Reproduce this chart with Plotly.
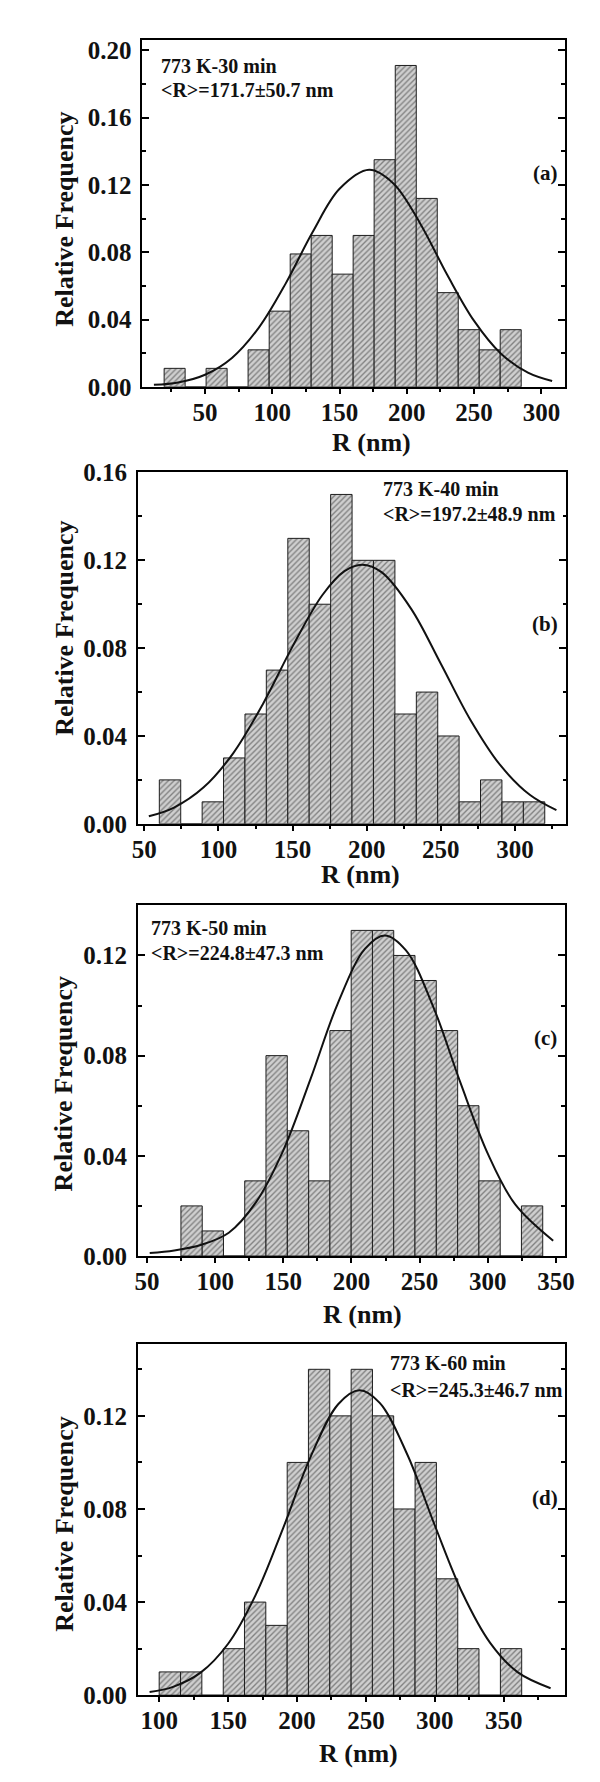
import plotly.graph_objects as go

# ---------------- data ----------------
# panel (a) 773 K-30 min
a_centers = [27.4, 43.0, 58.6, 74.2, 89.8, 105.5, 121.1, 136.7, 152.3, 167.9,
             183.5, 199.2, 214.8, 230.4, 246.0, 261.6, 277.2]
a_freq = [0.011, 0.0, 0.011, 0.0, 0.022, 0.045, 0.079, 0.090, 0.067, 0.090,
          0.135, 0.191, 0.112, 0.056, 0.034, 0.022, 0.034]
a_fit_x = [12, 30, 50, 70, 90, 110, 130, 150, 172, 190, 210, 230, 250, 270, 290, 308]
a_fit_y = [0.0012, 0.0026, 0.0072, 0.0172, 0.0352, 0.0615, 0.0920, 0.1177, 0.1290,
           0.1209, 0.0970, 0.0666, 0.0392, 0.0197, 0.0085, 0.0035]

# panel (b) 773 K-40 min
b_centers = [67.3, 81.7, 96.2, 110.6, 125.1, 139.5, 154.0, 168.4, 182.9, 197.3,
             211.8, 226.2, 240.7, 255.1, 269.6, 284.0, 298.5, 312.9]
b_freq = [0.02, 0.0, 0.01, 0.03, 0.05, 0.07, 0.13, 0.10, 0.15, 0.12,
          0.12, 0.05, 0.06, 0.04, 0.01, 0.02, 0.01, 0.01]
b_fit_x = [53, 70, 90, 110, 130, 150, 170, 185, 197, 210, 230, 250, 270, 290, 310, 328]
b_fit_y = [0.0034, 0.0074, 0.0166, 0.0322, 0.0546, 0.0808, 0.1041, 0.1151, 0.1180,
           0.1146, 0.0979, 0.0729, 0.0473, 0.0268, 0.0132, 0.0062]

# panel (c) 773 K-50 min
c_centers = [82.7, 98.3, 113.9, 129.5, 145.1, 160.8, 176.4, 192.0, 207.6, 223.2,
             238.8, 254.4, 270.1, 285.7, 301.3, 316.9, 332.5]
c_freq = [0.02, 0.01, 0.0, 0.03, 0.08, 0.05, 0.03, 0.09, 0.13, 0.13,
          0.12, 0.11, 0.09, 0.06, 0.03, 0.0, 0.02]
c_fit_x = [52, 70, 90, 110, 130, 150, 170, 190, 210, 224.5, 240, 260, 280, 300, 320, 348]
c_fit_y = [0.0012, 0.0022, 0.0045, 0.0093, 0.0215, 0.0422, 0.0707, 0.1009, 0.1227,
           0.1280, 0.1220, 0.0995, 0.0691, 0.0409, 0.0207, 0.0061]

# panel (d) 773 K-60 min
d_centers = [107.7, 123.2, 138.7, 154.2, 169.6, 185.1, 200.6, 216.0, 231.5, 247.0,
             262.4, 277.9, 293.4, 308.9, 324.3, 339.8, 355.3]
d_freq = [0.01, 0.01, 0.0, 0.02, 0.04, 0.03, 0.10, 0.14, 0.12, 0.14,
          0.12, 0.08, 0.10, 0.05, 0.02, 0.0, 0.02]
d_fit_x = [93, 110, 130, 150, 170, 190, 210, 230, 245.3, 260, 280, 300, 320, 340, 360, 384]
d_fit_y = [0.0014, 0.0036, 0.0097, 0.0221, 0.0431, 0.0719, 0.1026, 0.1251, 0.1310,
           0.1256, 0.1034, 0.0729, 0.0439, 0.0226, 0.0099, 0.0030]

labels_line1 = ["773 K-30 min", "773 K-40 min", "773 K-50 min", "773 K-60 min"]
labels_line2 = ["&lt;R&gt;=171.7±50.7 nm", "&lt;R&gt;=197.2±48.9 nm",
                "&lt;R&gt;=224.8±47.3 nm", "&lt;R&gt;=245.3±46.7 nm"]
panel_tags = ["(a)", "(b)", "(c)", "(d)"]
x_title = "R (nm)"
y_title = "Relative Frequency"

# ---------------- layout geometry (pixels) ----------------
W, H = 600, 1782
FONT = "Liberation Serif, Times New Roman, serif"
INK = "#111111"

panels = [
    dict(c=a_centers, f=a_freq, fx=a_fit_x, fy=a_fit_y, bw=15.62,
         px=(132.0, 565.6), py=(20.7, 372.3), xr=(3.5, 317.2), yr=(0, 0.2059),
         l1=(148.5, 46.5), l2=(148.5, 71.5), tag=(546, 155), yt=(51.7, 202.5), xt=(367, 429)),
    dict(c=b_centers, f=b_freq, fx=b_fit_x, fy=b_fit_y, bw=14.45,
         px=(127.4, 567.5), py=(458.3, 815.7), xr=(45.7, 334.7), yr=(0, 0.1604),
         l1=(377, 476), l2=(377, 501), tag=(546, 613), yt=(51.7, 617.5), xt=(356, 867)),
    dict(c=c_centers, f=c_freq, fx=c_fit_x, fy=c_fit_y, bw=15.62,
         px=(127.4, 565.6), py=(897.7, 1254.3), xr=(43.4, 356.3), yr=(0, 0.1403),
         l1=(138.5, 921.7), l2=(138.5, 946.7), tag=(546, 1033), yt=(50.5, 1080), xt=(358, 1314)),
    dict(c=d_centers, f=d_freq, fx=d_fit_x, fy=d_fit_y, bw=15.47,
         px=(127.4, 565.6), py=(1343.3, 1700.0), xr=(84.6, 394.1), yr=(0, 0.151),
         l1=(384, 1363.3), l2=(384, 1390), tag=(546, 1500), yt=(51.7, 1526.7), xt=(354, 1759)),
]


def fx_(px):
    return px / W


def fy_(py):
    return 1 - py / H


fig = go.Figure()
layout = dict(width=W, height=H, margin=dict(l=0, r=0, t=0, b=0),
              paper_bgcolor="white", plot_bgcolor="white", showlegend=False,
              font=dict(family=FONT, color=INK))
annotations = []

for i, p in enumerate(panels, start=1):
    xa = "x" if i == 1 else f"x{i}"
    ya = "y" if i == 1 else f"y{i}"
    fig.add_trace(go.Bar(
        x=p["c"], y=p["f"], width=p["bw"], xaxis=xa, yaxis=ya,
        marker=dict(color="#cfcfcf", line=dict(color="#1e1e1e", width=1),
                    pattern=dict(shape="/", fgcolor="#333333", bgcolor="#cfcfcf",
                                 size=4, solidity=0.34)),
        hoverinfo="skip"))
    fig.add_trace(go.Scatter(
        x=p["fx"], y=p["fy"], xaxis=xa, yaxis=ya, mode="lines",
        line=dict(color="#111111", width=2, shape="spline", smoothing=1.0),
        hoverinfo="skip"))

    tickfont = dict(family=FONT, size=25, color=INK, weight="bold")
    dom_x = [fx_(p["px"][0]), fx_(p["px"][1])]
    dom_y = [fy_(p["py"][1]), fy_(p["py"][0])]
    layout[f"xaxis{'' if i == 1 else i}"] = dict(
        domain=dom_x, range=list(p["xr"]), anchor=ya, showgrid=False, zeroline=False,
        showline=True, linecolor="black", linewidth=2, mirror=True,
        ticks="outside", ticklen=5, tickwidth=2, tickcolor="black",
        tick0=0, dtick=50, tickfont=tickfont, ticklabelstandoff=-3,
        minor=dict(ticks="outside", ticklen=3, tickwidth=1.5, tickcolor="black", dtick=25))
    layout[f"xaxis{i + 4}"] = dict(
        overlaying=xa, matches=xa, side="top", anchor=ya, range=list(p["xr"]),
        showgrid=False, zeroline=False, showline=False, showticklabels=False,
        ticks="inside", ticklen=6, tickwidth=2, tickcolor="black", tick0=0, dtick=50,
        minor=dict(ticks="inside", ticklen=3.5, tickwidth=1.5, tickcolor="black", dtick=25))
    layout[f"yaxis{'' if i == 1 else i}"] = dict(
        domain=dom_y, range=list(p["yr"]), anchor=xa, showgrid=False, zeroline=False,
        showline=True, linecolor="black", linewidth=2, mirror="ticks",
        ticks="inside", ticklen=7, tickwidth=2, tickcolor="black",
        tick0=0, dtick=0.04, tickformat=".2f", tickfont=tickfont, ticklabelstandoff=4,
        minor=dict(ticks="inside", ticklen=3.5, tickwidth=1.5, tickcolor="black", dtick=0.02))

    tfont = dict(family=FONT, size=20, color=INK, weight="bold")
    annotations.append(dict(text=labels_line1[i - 1], x=fx_(p["l1"][0]), y=fy_(p["l1"][1]),
                            xref="paper", yref="paper", xanchor="left", yanchor="middle",
                            showarrow=False, font=tfont))
    annotations.append(dict(text=labels_line2[i - 1], x=fx_(p["l2"][0]), y=fy_(p["l2"][1]),
                            xref="paper", yref="paper", xanchor="left", yanchor="middle",
                            showarrow=False, font=tfont))
    annotations.append(dict(text=panel_tags[i - 1], x=fx_(p["tag"][0]), y=fy_(p["tag"][1]),
                            xref="paper", yref="paper", xanchor="center", yanchor="middle",
                            showarrow=False, font=dict(family=FONT, size=21, color=INK, weight="bold")))
    annotations.append(dict(text=y_title, x=fx_(p["yt"][0]), y=fy_(p["yt"][1]),
                            xref="paper", yref="paper", xanchor="center", yanchor="middle",
                            textangle=-90, showarrow=False,
                            font=dict(family=FONT, size=26, color=INK, weight="bold")))
    annotations.append(dict(text=x_title, x=fx_(p["xt"][0]), y=fy_(p["xt"][1]),
                            xref="paper", yref="paper", xanchor="center", yanchor="middle",
                            showarrow=False,
                            font=dict(family=FONT, size=26, color=INK, weight="bold")))

layout["annotations"] = annotations
fig.update_layout(**layout)
fig.write_html("out.html")
